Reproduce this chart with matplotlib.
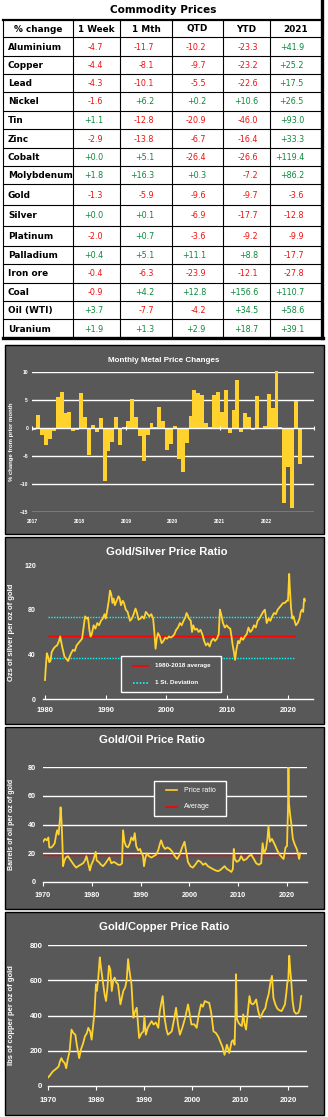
import matplotlib
matplotlib.use('Agg')
import matplotlib.pyplot as plt
from matplotlib.patches import Rectangle

# ---------------- data ----------------
commodities = ["Aluminium", "Copper", "Lead", "Nickel", "Tin", "Zinc", "Cobalt", "Molybdenum",
               "Gold", "Silver", "Platinum", "Palladium", "Iron ore", "Coal", "Oil (WTI)", "Uranium"]
col_headers = ["% change", "1 Week", "1 Mth", "QTD", "YTD", "2021"]
chg_week = [-4.7, -4.4, -4.3, -1.6, 1.1, -2.9, 0.0, 1.8, -1.3, 0.0, -2.0, 0.4, -0.4, -0.9, 3.7, 1.9]
chg_month = [-11.7, -8.1, -10.1, 6.2, -12.8, -13.8, 5.1, 16.3, -5.9, 0.1, 0.7, 5.1, -6.3, 4.2, -7.7, 1.3]
chg_qtd = [-10.2, -9.7, -5.5, 0.2, -20.9, -6.7, -26.4, 0.3, -9.6, -6.9, -3.6, 11.1, -23.9, 12.8, -4.2, 2.9]
chg_ytd = [-23.3, -23.2, -22.6, 10.6, -46.0, -16.4, -26.6, -7.2, -9.7, -17.7, -9.2, 8.8, -12.1, 156.6, 34.5, 18.7]
chg_2021 = [41.9, 25.2, 17.5, 26.5, 93.0, 33.3, 119.4, 86.2, -3.6, -12.8, -9.9, -17.7, -27.8, 110.7, 58.6, 39.1]

# monthly metal price changes, Jan 2017 .. Sep 2022
monthly_change = [
    -0.4, 2.4, -1.3, -3.0, -2.0, -0.6, 5.5, 6.4, 2.6, 2.9, -0.6, -0.4,      # 2017
    6.3, 2.0, -4.9, 0.5, -0.7, 1.8, -9.5, -4.1, -2.5, 2.0, -3.1, 0.1,       # 2018
    1.3, 5.2, 2.0, -1.5, -5.9, -1.2, 0.9, 0.1, 3.8, 1.2, -3.9, -2.9,        # 2019
    0.4, -5.6, -7.8, -2.6, 2.1, 6.8, 6.3, 5.9, 0.9, 0.1, 5.9, 6.4,          # 2020
    2.9, 6.8, -0.9, 3.2, 8.6, -0.7, 2.6, 2.0, -0.3, 5.7, -0.1, 0.3,         # 2021
    6.1, 3.5, 10.2, 0.2, -13.4, -7.0, -14.3, 4.9, -6.5,                     # 2022
]
monthly_year_labels = ["2017", "2018", "2019", "2020", "2021", "2022"]

gs_years = [1980.0, 1980.1, 1980.3, 1980.5, 1980.7, 1980.9, 1981.1, 1981.4, 1981.7, 1982.0, 1982.3, 1982.5,
            1982.7, 1982.9, 1983.2, 1983.5, 1983.8, 1984.0, 1984.3, 1984.6, 1984.9, 1985.2, 1985.5, 1985.8,
            1986.1, 1986.3, 1986.6, 1986.9, 1987.1, 1987.3, 1987.5, 1987.7, 1988.0, 1988.3, 1988.6, 1988.9,
            1989.2, 1989.5, 1989.8, 1990.0, 1990.2, 1990.5, 1990.7, 1990.9, 1991.1, 1991.3, 1991.5, 1991.8,
            1992.1, 1992.3, 1992.5, 1992.8, 1993.0, 1993.3, 1993.6, 1993.8, 1994.0, 1994.3, 1994.6, 1994.9,
            1995.1, 1995.4, 1995.7, 1996.0, 1996.3, 1996.6, 1996.9, 1997.2, 1997.5, 1997.8, 1998.0, 1998.2,
            1998.4, 1998.6, 1998.9, 1999.2, 1999.5, 1999.8, 2000.1, 2000.4, 2000.7, 2001.0, 2001.3, 2001.6,
            2001.9, 2002.2, 2002.5, 2002.8, 2003.1, 2003.3, 2003.5, 2003.7, 2004.0, 2004.2, 2004.4, 2004.7,
            2005.0, 2005.3, 2005.6, 2005.9, 2006.2, 2006.5, 2006.8, 2007.1, 2007.4, 2007.7, 2008.0, 2008.3,
            2008.6, 2008.8, 2009.0, 2009.3, 2009.6, 2009.9, 2010.2, 2010.5, 2010.7, 2010.9, 2011.1, 2011.3,
            2011.5, 2011.8, 2012.0, 2012.3, 2012.6, 2012.9, 2013.2, 2013.5, 2013.8, 2014.1, 2014.4, 2014.7,
            2015.0, 2015.3, 2015.6, 2015.9, 2016.2, 2016.5, 2016.8, 2017.1, 2017.4, 2017.7, 2018.0, 2018.3,
            2018.6, 2018.9, 2019.2, 2019.5, 2019.8, 2020.0, 2020.2, 2020.3, 2020.5, 2020.7, 2020.9, 2021.1,
            2021.3, 2021.6, 2021.9, 2022.1, 2022.3, 2022.5, 2022.6, 2022.7, 2022.8]
gs_ratio = [17, 26, 41, 38, 33, 34, 42, 45, 47, 48, 52, 56,
            50, 45, 38, 36, 34, 37, 41, 44, 43, 48, 50, 52,
            54, 62, 74, 72, 73, 62, 56, 58, 66, 63, 68, 66,
            70, 72, 76, 72, 78, 88, 97, 94, 86, 90, 84, 88,
            92, 90, 84, 88, 86, 80, 78, 74, 70, 72, 76, 81,
            78, 71, 72, 74, 72, 78, 76, 74, 76, 72, 60, 45,
            54, 59, 56, 50, 52, 55, 54, 56, 55, 56, 58, 62,
            64, 68, 66, 70, 73, 77, 75, 72, 70, 60, 66, 62,
            63, 60, 62, 58, 52, 48, 50, 47, 52, 54, 52, 54,
            58, 80, 76, 68, 64, 66, 64, 63, 56, 48, 42, 35,
            44, 52, 50, 55, 53, 56, 58, 64, 60, 62, 66, 64,
            70, 72, 75, 78, 80, 68, 72, 70, 74, 77, 76, 80,
            82, 84, 86, 86, 88, 88, 112, 100, 82, 72, 74, 70,
            66, 68, 72, 78, 80, 78, 86, 90, 88]
gs_average = 56.0
gs_std_band = [73.7, 36.4]

go_years = [1970.0, 1970.4, 1970.8, 1971.1, 1971.3, 1971.7, 1972.0, 1972.4, 1972.7, 1972.9, 1973.2, 1973.5,
            1973.6, 1973.8, 1974.0, 1974.1, 1974.4, 1974.7, 1975.1, 1975.5, 1975.9, 1976.3, 1976.8, 1977.2,
            1977.7, 1978.2, 1978.6, 1978.9, 1979.2, 1979.6, 1979.9, 1980.3, 1980.8, 1981.0, 1981.4, 1981.9,
            1982.3, 1982.8, 1983.2, 1983.6, 1984.0, 1984.5, 1985.0, 1985.4, 1985.9, 1986.2, 1986.4, 1986.7,
            1987.0, 1987.4, 1987.8, 1988.1, 1988.5, 1988.8, 1989.1, 1989.5, 1989.9, 1990.1, 1990.5, 1990.7,
            1991.0, 1991.3, 1991.7, 1992.2, 1992.7, 1993.2, 1993.6, 1994.0, 1994.2, 1994.6, 1995.0, 1995.5,
            1996.0, 1996.5, 1997.0, 1997.5, 1998.0, 1998.5, 1999.0, 1999.3, 1999.7, 2000.2, 2000.7, 2001.2,
            2001.8, 2002.3, 2002.8, 2003.3, 2003.8, 2004.3, 2004.8, 2005.4, 2005.9, 2006.4, 2006.9, 2007.2,
            2007.7, 2008.2, 2008.6, 2008.9, 2009.1, 2009.3, 2009.7, 2010.2, 2010.6, 2011.1, 2011.7, 2012.2,
            2012.7, 2013.2, 2013.7, 2014.2, 2014.7, 2015.0, 2015.3, 2015.7, 2016.0, 2016.2, 2016.5, 2016.9,
            2017.5, 2018.0, 2018.5, 2019.0, 2019.3, 2019.7, 2020.0, 2020.2, 2020.3, 2020.4, 2020.6, 2020.9,
            2021.2, 2021.6, 2022.0, 2022.3, 2022.5, 2022.7]
go_ratio = [28, 30, 29, 31, 24, 24, 25, 27, 33, 36, 33, 45,
            52, 42, 25, 11, 15, 17, 18, 16, 14, 12, 10, 11,
            12, 13, 15, 18, 14, 8, 12, 15, 21, 15, 14, 12,
            11, 13, 15, 17, 13, 14, 13, 12, 12, 13, 36, 28,
            25, 24, 27, 31, 29, 34, 25, 22, 23, 21, 18, 11,
            17, 20, 18, 17, 18, 19, 22, 27, 29, 25, 23, 24,
            23, 21, 18, 16, 19, 24, 28, 22, 14, 11, 10, 12,
            15, 14, 12, 13, 11, 10, 9, 8, 7.5, 8.5, 10, 11,
            9, 8, 7, 9, 23, 16, 14, 15, 18, 15, 16, 18,
            19, 16, 13, 12, 13, 27, 20, 23, 30, 39, 28, 30,
            26, 22, 19, 17, 16, 24, 25, 50, 80, 55, 48, 40,
            30, 26, 23, 19, 16, 20]
go_average = 18.6

gc_years = [1970.0, 1970.4, 1970.7, 1971.1, 1971.4, 1971.8, 1972.2, 1972.5, 1972.8, 1973.1, 1973.5, 1973.8,
            1974.1, 1974.5, 1974.9, 1975.3, 1975.7, 1976.0, 1976.5, 1976.9, 1977.3, 1977.7, 1978.1, 1978.4,
            1978.8, 1979.1, 1979.4, 1979.7, 1980.0, 1980.2, 1980.5, 1980.8, 1981.0, 1981.4, 1981.8, 1982.1,
            1982.4, 1982.7, 1983.0, 1983.3, 1983.6, 1983.9, 1984.2, 1984.6, 1985.1, 1985.4, 1985.7, 1986.1,
            1986.4, 1986.7, 1987.0, 1987.4, 1987.8, 1988.1, 1988.5, 1989.0, 1989.5, 1989.9, 1990.1, 1990.4,
            1990.8, 1991.2, 1991.6, 1992.0, 1992.5, 1993.0, 1993.3, 1993.9, 1994.3, 1994.7, 1995.0, 1995.4,
            1995.8, 1996.3, 1996.7, 1997.1, 1997.5, 1998.0, 1998.6, 1999.2, 1999.6, 1999.9, 2000.5, 2001.0,
            2001.4, 2001.9, 2002.3, 2002.7, 2003.2, 2003.6, 2004.0, 2004.5, 2005.0, 2005.5, 2005.9, 2006.4,
            2006.8, 2007.3, 2007.8, 2008.3, 2008.6, 2008.9, 2009.1, 2009.2, 2009.4, 2009.7, 2010.0, 2010.4,
            2010.7, 2011.0, 2011.3, 2011.6, 2012.0, 2012.3, 2012.7, 2013.0, 2013.4, 2013.8, 2014.2, 2014.5,
            2014.9, 2015.3, 2015.6, 2016.0, 2016.4, 2016.7, 2017.0, 2017.4, 2017.8, 2018.2, 2018.7, 2019.0,
            2019.4, 2019.7, 2019.9, 2020.1, 2020.3, 2020.5, 2020.7, 2021.0, 2021.3, 2021.7, 2022.2, 2022.5,
            2022.8]
gc_ratio = [48, 60, 72, 85, 91, 100, 110, 140, 158, 140, 130, 101,
            150, 196, 320, 300, 291, 234, 158, 210, 240, 282, 300, 330,
            310, 263, 339, 420, 577, 540, 620, 730, 680, 600, 520, 482,
            560, 682, 660, 539, 600, 615, 590, 577, 463, 500, 539, 560,
            600, 720, 650, 577, 387, 420, 444, 272, 300, 310, 396, 291,
            330, 350, 368, 349, 360, 330, 425, 510, 387, 320, 291, 300,
            310, 380, 444, 350, 291, 330, 387, 463, 400, 349, 350, 330,
            400, 463, 450, 482, 475, 472, 420, 310, 301, 280, 253, 220,
            177, 234, 187, 253, 260, 234, 420, 634, 380, 360, 349, 340,
            406, 350, 320, 400, 510, 470, 463, 470, 491, 430, 387, 400,
            425, 440, 482, 520, 590, 625, 500, 463, 440, 430, 425, 440,
            463, 530, 587, 600, 739, 660, 600, 480, 425, 410, 415, 440,
            510]
decade_labels_80 = [1980, 1990, 2000, 2010, 2020]
decade_labels_70 = [1970, 1980, 1990, 2000, 2010, 2020]

# ---------------- styling ----------------
W, H = 328, 1117
PANEL_BG = '#585858'
GOLD = '#FFD22E'
RED_TXT = '#F01010'
GREEN_TXT = '#0A8A3A'
CH_FONT = 'Liberation Sans'

fig = plt.figure(figsize=(W / 100, H / 100), dpi=100)
fig.patch.set_facecolor('white')


def ax_px(x0, y0, x1, y1):
    a = fig.add_axes([x0 / W, 1 - y1 / H, (x1 - x0) / W, (y1 - y0) / H])
    a.set_facecolor('none')
    return a


# background overlay in pixel coordinates
bg = ax_px(0, 0, W, H)
bg.set_xlim(0, W)
bg.set_ylim(H, 0)
bg.axis('off')
bg.set_zorder(0)

# ---------------- table ----------------
bg.text(163, 10, "Commodity Prices", ha='center', va='center', fontsize=7.6,
        fontweight='bold', family='DejaVu Sans')
row_edges = [20, 37, 56, 74, 92, 111, 129, 148, 166, 184, 205, 226, 246, 264, 283, 301, 319, 338]
col_edges = [3, 73, 120, 172, 223, 270, 321]
for yv in row_edges[1:-1]:
    bg.plot([col_edges[0], col_edges[-1]], [yv, yv], color='black', lw=0.8)
bg.plot([col_edges[0], col_edges[-1]], [row_edges[0], row_edges[0]], color='black', lw=1.6)
bg.plot([col_edges[0], col_edges[-1] + 1.5], [row_edges[-1], row_edges[-1]], color='black', lw=2.4)
for xv in col_edges[1:-1]:
    bg.plot([xv, xv], [row_edges[0], row_edges[-1]], color='black', lw=0.8)
bg.plot([col_edges[0], col_edges[0]], [row_edges[0], row_edges[-1]], color='black', lw=0.8)
bg.plot([col_edges[-1] + 0.5, col_edges[-1] + 0.5], [0, row_edges[-1]], color='black', lw=2.4)

hdr_y = (row_edges[0] + row_edges[1]) / 2
for j, h in enumerate(col_headers):
    cx = (col_edges[j] + col_edges[j + 1]) / 2
    bg.text(cx, hdr_y + 0.5, h, ha='center', va='center', fontsize=6.4, fontweight='bold',
            family='DejaVu Sans')

value_cols = [chg_week, chg_month, chg_qtd, chg_ytd, chg_2021]
right_x = [103, 154, 206, 258, 304]
for i, name in enumerate(commodities):
    cy = (row_edges[i + 1] + row_edges[i + 2]) / 2 + 0.5
    bg.text(8, cy, name, ha='left', va='center', fontsize=6.4, fontweight='bold',
            family='DejaVu Sans')
    for col, rx in zip(value_cols, right_x):
        v = col[i]
        bg.text(rx, cy, f"{v:+.1f}", ha='right', va='center', fontsize=5.8,
                color=GREEN_TXT if v >= 0 else RED_TXT, family='DejaVu Sans')

# ---------------- panels ----------------
panels = [(5, 345, 324, 534), (5, 537, 324, 724), (5, 727, 324, 909), (5, 912, 324, 1115)]
for (x0, y0, x1, y1) in panels:
    bg.add_patch(Rectangle((x0, y0), x1 - x0, y1 - y0, facecolor=PANEL_BG, edgecolor='black', lw=1.0))

titles = [("Monthly Metal Price Changes", 164, 360, 5.8, 'bold'),
          ("Gold/Silver Price Ratio", 167, 552, 8.1, 'bold'),
          ("Gold/Oil Price Ratio", 152, 740, 8.1, 'bold'),
          ("Gold/Copper Price Ratio", 164, 927, 8.1, 'bold')]
for t, x, y, fs, fw in titles:
    bg.text(x, y, t, ha='center', va='center', color='white', fontsize=fs, fontweight=fw, family=CH_FONT)


def style_axis(a, ylabel, ylabel_fs, tick_fs_y, tick_fs_x, ypad, xpad, ylab_x):
    for s in ['top', 'right', 'left']:
        a.spines[s].set_visible(False)
    a.spines['bottom'].set_color('white')
    a.spines['bottom'].set_linewidth(1.0)
    a.tick_params(axis='y', length=0, pad=ypad, labelsize=tick_fs_y, labelcolor='white')
    a.tick_params(axis='x', colors='white', labelsize=tick_fs_x, pad=xpad, labelcolor='white')
    for lab in a.get_xticklabels() + a.get_yticklabels():
        lab.set_fontweight('bold')
        lab.set_family(CH_FONT)
    a.set_ylabel(ylabel, color='white', fontsize=ylabel_fs, fontweight='bold', family=CH_FONT)
    a.yaxis.set_label_coords(ylab_x, 0.5)


# --- panel 1: monthly bars ---
ax1 = ax_px(32.3, 372, 313.6, 512)
ax1.set_zorder(2)
ax1.set_xlim(0, 72)
ax1.set_ylim(-15, 10)
for g in [10, 5, -5, -10, -15]:
    ax1.axhline(g, color='white', lw=1.0, zorder=1)
ax1.bar(range(len(monthly_change)), monthly_change, width=1.0, align='edge', color=GOLD, zorder=2,
        clip_on=False)
ax1.axhline(0, color='white', lw=1.0, zorder=4)
ax1.vlines([0, 24, 48, 72], -0.35, 0.35, color='white', lw=0.8, zorder=4, clip_on=False)
ax1.set_yticks([-15, -10, -5, 0, 5, 10])
ax1.set_xticks([12 * k for k in range(len(monthly_year_labels))])
ax1.set_xticklabels(monthly_year_labels)
ax1.spines['bottom'].set_visible(False)
style_axis(ax1, '% change from prior month', 4.3, 3.6, 3.6, 3, 5, -0.065)
ax1.tick_params(axis='x', length=0)

# --- panel 2: gold/silver ---
ax2 = ax_px(43, 565, 313, 699)
ax2.set_zorder(2)
ax2.set_xlim(1979.67, 2024.12)
ax2.set_ylim(0, 120)
ax2.hlines(gs_std_band, 1980.5, 2021.2, color='#00FFFF', lw=1.0, linestyles=(0, (1, 1)), zorder=2)
ax2.hlines(gs_average, 1980.5, 2021.2, color='#FF0000', lw=1.0, zorder=2)
ax2.plot(gs_years, gs_ratio, color=GOLD, lw=1.3, zorder=3)
ax2.set_yticks([0, 40, 80, 120])
ax2.set_xticks(decade_labels_80)
style_axis(ax2, 'Ozs of silver per oz of gold', 5.5, 5.0, 5.5, 5, 6, -0.104)
ax2.tick_params(axis='x', direction='in', length=3, width=0.8)

# --- panel 3: gold/oil ---
ax3 = ax_px(43, 767, 307, 882)
ax3.set_zorder(2)
ax3.set_xlim(1970, 2024.1)
ax3.set_ylim(0, 80)
for g in [20, 40, 60, 80]:
    ax3.axhline(g, color='white', lw=1.0, zorder=1)
ax3.hlines(go_average, 1970, 2023.1, color='#FF0000', lw=1.0, zorder=2)
ax3.plot(go_years, go_ratio, color=GOLD, lw=1.3, zorder=3)
ax3.set_yticks([0, 20, 40, 60, 80])
ax3.set_xticks(decade_labels_70)
style_axis(ax3, 'Barrels of oil per oz of gold', 5.0, 5.2, 5.2, 5, 4, -0.106)
ax3.tick_params(axis='x', direction='out', length=3, width=0.8)

# --- panel 4: gold/copper ---
ax4 = ax_px(48, 945, 307, 1086)
ax4.set_zorder(2)
ax4.set_xlim(1970, 2024)
ax4.set_ylim(0, 800)
for g in [200, 400, 600, 800]:
    ax4.axhline(g, color='white', lw=1.0, zorder=1)
ax4.plot(gc_years, gc_ratio, color=GOLD, lw=1.3, zorder=3)
ax4.set_yticks([0, 200, 400, 600, 800])
ax4.set_xticks(decade_labels_70)
style_axis(ax4, 'lbs of copper per oz of gold', 5.5, 5.6, 5.6, 4, 5, -0.127)
ax4.tick_params(axis='x', direction='out', length=3, width=0.8)

# ---------------- legends (foreground overlay) ----------------
fg = ax_px(0, 0, W, H)
fg.set_xlim(0, W)
fg.set_ylim(H, 0)
fg.axis('off')
fg.set_zorder(5)

fg.add_patch(Rectangle((121, 656), 100, 36, facecolor=PANEL_BG, edgecolor='white', lw=1.0))
fg.plot([133, 148], [666, 666], color='#FF0000', lw=1.2)
fg.plot([133, 148], [683, 683], color='#00FFFF', lw=1.2, linestyle=(0, (1, 1)))
fg.text(155, 666, "1980-2018 average", color='white', fontsize=4.5, fontweight='bold', va='center',
        family=CH_FONT)
fg.text(155, 683, "1 St. Deviation", color='white', fontsize=4.5, fontweight='bold', va='center',
        family=CH_FONT)

fg.add_patch(Rectangle((154, 781), 72, 35, facecolor=PANEL_BG, edgecolor='white', lw=1.0))
fg.plot([166, 177], [790, 790], color=GOLD, lw=1.2)
fg.plot([166, 177], [807, 807], color='#FF0000', lw=1.2)
fg.text(184, 790, "Price ratio", color='white', fontsize=5, va='center', family=CH_FONT)
fg.text(184, 807, "Average", color='white', fontsize=5, va='center', family=CH_FONT)

fig.savefig('out.png', dpi=100, facecolor='white')
